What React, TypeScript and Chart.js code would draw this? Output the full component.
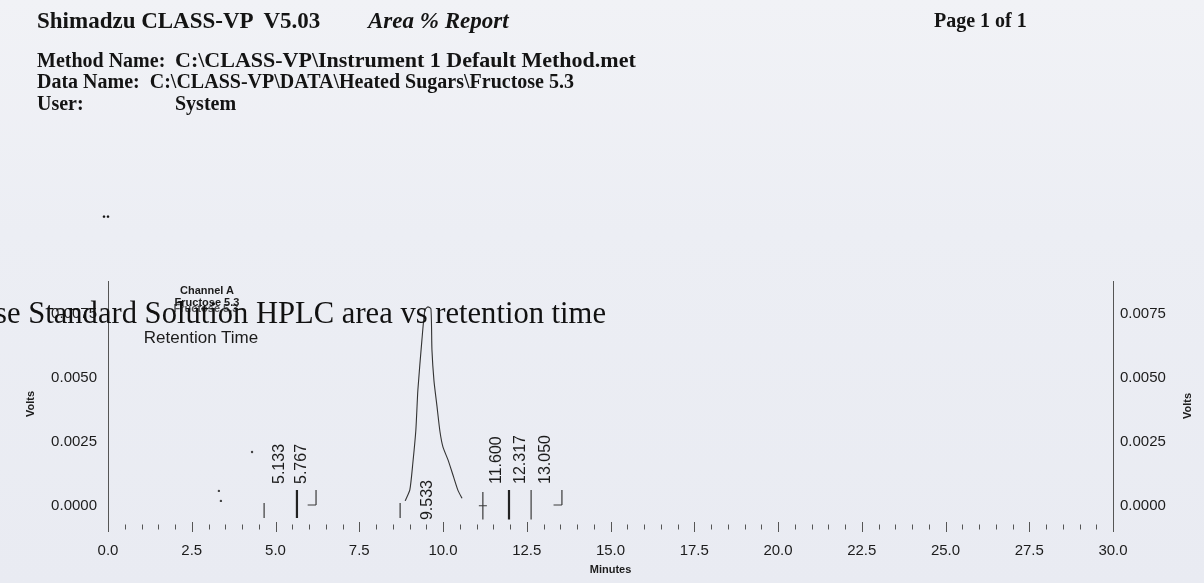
import React, { useEffect, useRef } from "react";
import { Chart, registerables } from "chart.js";
Chart.register(...registerables);

const W = 1204;
const H = 583;

// ---- data ----
const traceMinutes = [8.87, 9.01, 9.1, 9.19, 9.25, 9.37, 9.46, 9.55, 9.64, 9.67, 9.73, 9.82, 9.91, 10.0, 10.15, 10.3, 10.45, 10.57];
const traceVolts = [0.0002, 0.00063, 0.00168, 0.00297, 0.00453, 0.00648, 0.00766, 0.00778, 0.0077, 0.0061, 0.0049, 0.0039, 0.0029, 0.0023, 0.0018, 0.0012, 0.0006, 0.0003];

const peakRetention = [5.133, 5.767, 9.533, 11.6, 12.317, 13.05];

const eventMinutes = [4.66, 5.64, 6.21, 8.72, 11.19, 11.97, 12.63, 13.55];
const eventTopVolts = [0.00012, 0.00063, 0.00063, 0.00012, 0.00055, 0.00063, 0.00063, 0.00063];
const eventBottomVolts = [-0.00047, -0.00047, 0.00004, -0.00047, -0.00053, -0.00053, -0.00053, 0.00004];
const eventKinds = ["plain", "bold", "foot", "plain", "cross", "bold", "plain", "foot"];

const noiseMinutes = [3.31, 3.37, 4.3];
const noiseVolts = [0.00059, 0.0002, 0.00211];

const xTickValues = [0, 2.5, 5, 7.5, 10, 12.5, 15, 17.5, 20, 22.5, 25, 27.5, 30];
const minorTickValues = Array.from({ length: 61 }, (_, i) => i * 0.5);
const yTickValues = [0, 0.0025, 0.005, 0.0075];

const X_MIN = 0;
const X_MAX = 30;
const Y_MIN = -0.00082;
const Y_MAX = 0.00879;

const SANS = "'Liberation Sans', Arial, sans-serif";
const SERIF = "'Liberation Serif', 'Times New Roman', serif";
const INK = "#1c1c1c";

const overlayPlugin = {
  id: "overlay",
  afterDatasetsDraw(chart: any) {
    const { ctx, scales, chartArea } = chart;
    const xs = scales.x;
    const ys = scales.y;
    ctx.save();
    // minor / major ticks of the minutes axis
    ctx.strokeStyle = "#555";
    ctx.lineWidth = 1;
    minorTickValues.forEach((v) => {
      const px = Math.round(xs.getPixelForValue(v)) + 0.5;
      const major = Math.abs(v / 2.5 - Math.round(v / 2.5)) < 1e-6;
      const half = major ? 5 : 2.5;
      ctx.beginPath();
      ctx.moveTo(px, chartArea.bottom - half);
      ctx.lineTo(px, chartArea.bottom + half);
      ctx.stroke();
    });
    // retention time labels
    ctx.fillStyle = INK;
    ctx.font = `16px ${SANS}`;
    ctx.textAlign = "left";
    ctx.textBaseline = "middle";
    peakRetention.forEach((rt) => {
      let apex = 0;
      traceMinutes.forEach((m, i) => {
        if (Math.abs(m - rt) < 0.6) apex = Math.max(apex, traceVolts[i]);
      });
      const startV = apex > 0.003 ? -0.00055 : 0.00086;
      const px = xs.getPixelForValue(rt);
      const py = ys.getPixelForValue(startV);
      ctx.save();
      ctx.translate(px, py);
      ctx.rotate(-Math.PI / 2);
      ctx.fillText(rt.toFixed(3), 0, 0);
      ctx.restore();
    });
    // right axis title reading upward
    ctx.font = `bold 11px ${SANS}`;
    ctx.textAlign = "center";
    ctx.save();
    ctx.translate(1188, (chartArea.top + chartArea.bottom) / 2 + 2);
    ctx.rotate(-Math.PI / 2);
    ctx.fillText("Volts", 0, 0);
    ctx.restore();
    ctx.restore();
  },
};

function buildEventData(filter: (k: string) => boolean) {
  const pts: any[] = [];
  eventMinutes.forEach((m, i) => {
    if (!filter(eventKinds[i])) return;
    pts.push({ x: m, y: eventTopVolts[i] });
    pts.push({ x: m, y: eventBottomVolts[i] });
    pts.push({ x: m, y: null });
    if (eventKinds[i] === "foot") {
      pts.push({ x: m - 0.25, y: eventBottomVolts[i] });
      pts.push({ x: m, y: eventBottomVolts[i] });
      pts.push({ x: m, y: null });
    }
    if (eventKinds[i] === "cross") {
      const mid = (eventTopVolts[i] + eventBottomVolts[i]) / 2;
      pts.push({ x: m - 0.12, y: mid });
      pts.push({ x: m + 0.12, y: mid });
      pts.push({ x: m, y: null });
    }
  });
  return pts;
}

export default function App() {
  const canvasRef = useRef<HTMLCanvasElement | null>(null);

  useEffect(() => {
    if (!canvasRef.current) return;
    const chart = new Chart(canvasRef.current, {
      type: "line",
      data: {
        datasets: [
          {
            label: "Channel A",
            data: traceMinutes.map((m, i) => ({ x: m, y: traceVolts[i] })),
            borderColor: "#333",
            borderWidth: 1.1,
            pointRadius: 0,
            tension: 0.2,
            fill: false,
          },
          {
            label: "events",
            data: buildEventData((k) => k !== "bold"),
            borderColor: "#3a3a3a",
            borderWidth: 1.2,
            pointRadius: 0,
            spanGaps: false,
            tension: 0,
          },
          {
            label: "events-bold",
            data: buildEventData((k) => k === "bold"),
            borderColor: "#222",
            borderWidth: 2.2,
            pointRadius: 0,
            spanGaps: false,
            tension: 0,
          },
          {
            label: "noise",
            data: noiseMinutes.map((m, i) => ({ x: m, y: noiseVolts[i] })),
            showLine: false,
            pointRadius: 1.2,
            pointBackgroundColor: "#444",
            pointBorderWidth: 0,
          },
        ],
      } as any,
      options: {
        animation: false,
        responsive: false,
        maintainAspectRatio: false,
        layout: { padding: { top: 281, left: 0, right: 0, bottom: 0 } },
        plugins: {
          legend: { display: false },
          tooltip: { enabled: false },
          title: { display: false },
        },
        scales: {
          x: {
            type: "linear",
            position: "bottom",
            min: X_MIN,
            max: X_MAX,
            afterBuildTicks: (s: any) => {
              s.ticks = xTickValues.map((v) => ({ value: v }));
            },
            afterFit: (s: any) => {
              s.height = 56;
            },
            grid: { display: false, drawTicks: false },
            border: { display: false },
            ticks: {
              autoSkip: false,
              maxRotation: 0,
              padding: 15,
              color: INK,
              font: { family: SANS, size: 15 },
              callback: (v: any) => Number(v).toFixed(1),
            },
            title: {
              display: true,
              text: "Minutes",
              color: INK,
              font: { family: SANS, size: 11, weight: "bold" },
              padding: { top: 0, bottom: 6 },
            },
          },
          y: {
            type: "linear",
            position: "left",
            min: Y_MIN,
            max: Y_MAX,
            afterBuildTicks: (s: any) => {
              s.ticks = yTickValues.map((v) => ({ value: v }));
            },
            afterFit: (s: any) => {
              s.width = 108;
            },
            grid: { display: false, drawTicks: false },
            border: { display: true, color: "#555", width: 1, dash: [4, 1] },
            ticks: {
              padding: 11,
              color: INK,
              font: { family: SANS, size: 15 },
              callback: (v: any) => Number(v).toFixed(4),
            },
            title: {
              display: true,
              text: "Volts",
              color: INK,
              font: { family: SANS, size: 11, weight: "bold" },
              padding: { top: 24, bottom: 0 },
            },
          },
          y2: {
            type: "linear",
            position: "right",
            min: Y_MIN,
            max: Y_MAX,
            afterBuildTicks: (s: any) => {
              s.ticks = yTickValues.map((v) => ({ value: v }));
            },
            afterFit: (s: any) => {
              s.width = 91;
            },
            grid: { display: false, drawTicks: false },
            border: { display: true, color: "#555", width: 1, dash: [4, 1] },
            ticks: {
              padding: 7,
              color: INK,
              font: { family: SANS, size: 15 },
              callback: (v: any) => Number(v).toFixed(4),
            },
          },
        },
      } as any,
      plugins: [overlayPlugin],
    });
    return () => chart.destroy();
  }, []);

  const serifBold = (size: number, extra: any = {}) => ({
    position: "absolute" as const,
    fontFamily: SERIF,
    fontWeight: "bold" as const,
    fontSize: size,
    lineHeight: 1,
    whiteSpace: "pre" as const,
    color: "#141414",
    ...extra,
  });
  const sans = (size: number, extra: any = {}) => ({
    position: "absolute" as const,
    fontFamily: SANS,
    fontSize: size,
    lineHeight: 1,
    whiteSpace: "pre" as const,
    color: INK,
    ...extra,
  });

  return (
    <div
      style={{
        position: "fixed",
        left: 0,
        top: 0,
        width: W,
        height: H,
        overflow: "hidden",
        background: "linear-gradient(180deg, #f1f2f6 0%, #eceef4 40%, #e9ebf2 100%)",
      }}
    >
      <canvas ref={canvasRef} width={W} height={H} style={{ position: "absolute", left: 0, top: 0, display: "block" }} />
      <div style={serifBold(23, { left: 37, top: 9 })}>Shimadzu CLASS-VP  V5.03</div>
      <div style={serifBold(23, { left: 368, top: 9, fontStyle: "italic" })}>Area % Report</div>
      <div style={serifBold(20, { left: 934, top: 10 })}>Page 1 of 1</div>
      <div style={serifBold(20, { left: 37, top: 50 })}>Method Name:</div>
      <div style={serifBold(22, { left: 175, top: 49 })}>{"C:\\CLASS-VP\\Instrument 1 Default Method.met"}</div>
      <div style={serifBold(20, { left: 37, top: 71 })}>{"Data Name:  C:\\CLASS-VP\\DATA\\Heated Sugars\\Fructose 5.3"}</div>
      <div style={serifBold(20, { left: 37, top: 93 })}>User:</div>
      <div style={serifBold(20, { left: 175, top: 93 })}>System</div>
      <div style={serifBold(16, { left: 102, top: 205 })}>..</div>
      <div style={sans(11, { left: 207, top: 285, fontWeight: "bold", transform: "translateX(-50%)" })}>Channel A</div>
      <div style={sans(11, { left: 207, top: 297, fontWeight: "bold", transform: "translateX(-50%)" })}>Fructose 5.3</div>
      <div style={sans(11, { left: 206, top: 303, fontWeight: "bold", transform: "translateX(-50%)", opacity: 0.75 })}>Fructose 5.3</div>
      <div style={sans(17, { left: 201, top: 329, transform: "translateX(-50%)" })}>Retention Time</div>
      <div
        style={{
          position: "absolute",
          right: W - 606,
          top: 298,
          fontFamily: SERIF,
          fontSize: 30.6,
          lineHeight: 1,
          whiteSpace: "nowrap",
          color: "#111",
        }}
      >
        Fructose Standard Solution HPLC area vs retention time
      </div>
    </div>
  );
}
